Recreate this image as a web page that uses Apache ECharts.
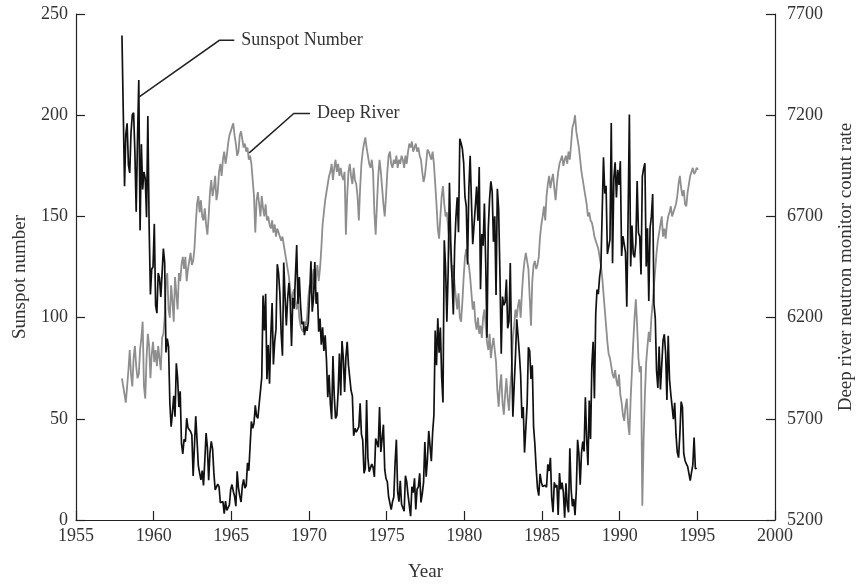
<!DOCTYPE html>
<html>
<head>
<meta charset="utf-8">
<script src="https://cdn.jsdelivr.net/npm/echarts@6/dist/echarts.min.js"></script>
<style>html,body{margin:0;padding:0;background:#fff}#c{width:864px;height:587px}</style>
</head>
<body>
<div id="c"></div>
<script>
// Monthly series, first value = Dec 1957
const START_YEAR = 1957;
const START_MONTH = 11; // 0-based: December
const sunspot = [
239.4,
202.5,164.9,190.7,196.0,175.3,171.5,191.4,200.2,201.2,181.5,152.3,187.6,
217.4,143.1,185.7,163.3,172.0,168.7,149.6,199.6,145.2,111.4,124.0,125.0,
146.3,106.0,102.2,122.0,119.6,110.2,121.7,134.1,127.2,82.8,89.6,85.6,
57.9,46.1,53.0,61.4,51.0,77.4,70.2,55.8,63.6,37.7,32.6,39.9,
38.7,50.3,45.6,46.4,43.7,42.0,21.8,21.8,51.3,39.5,26.9,23.2,
19.8,24.4,17.1,29.3,43.0,35.9,19.6,33.2,38.8,35.3,23.4,14.9,
15.3,17.7,16.5,8.6,9.5,9.1,3.1,9.3,4.7,6.1,7.4,15.1,
17.5,14.2,11.7,6.8,24.1,15.9,11.9,8.9,16.8,20.1,15.8,17.0,
28.2,24.4,25.3,48.7,45.3,47.7,56.7,51.2,50.2,57.2,57.2,70.4,
110.9,93.6,111.8,69.5,86.5,67.3,91.5,107.2,76.8,88.2,94.3,126.4,
121.8,111.9,92.2,81.2,127.2,110.3,96.1,109.3,117.2,107.7,86.0,109.8,
104.4,120.5,135.8,106.8,120.0,106.0,96.8,98.0,91.3,95.7,93.5,97.9,
111.5,127.8,102.9,109.5,127.5,106.8,112.5,93.0,99.5,86.6,95.2,83.5,
91.3,79.0,60.7,71.8,57.5,49.8,81.0,61.4,50.2,51.7,63.2,82.2,
61.5,88.4,80.1,63.2,80.5,88.0,76.5,76.8,64.0,61.3,41.6,45.3,
43.4,42.9,46.0,57.7,42.4,39.5,23.1,25.6,59.3,30.7,23.9,23.3,
27.6,26.0,21.3,40.3,39.5,36.0,55.8,33.6,40.2,47.1,25.0,20.5,
18.9,11.5,11.5,5.1,9.0,11.4,28.2,39.7,13.9,9.1,19.4,7.8,
8.1,4.3,21.9,18.8,12.4,12.2,1.9,16.4,13.5,20.6,5.2,15.3,
16.4,23.1,8.7,12.9,18.6,38.5,21.4,30.1,44.0,43.8,29.1,43.2,
51.9,93.6,76.5,99.7,82.7,95.1,70.4,58.1,138.2,125.1,97.9,122.7,
166.6,137.5,138.0,101.5,134.4,149.5,159.4,142.2,188.4,186.2,183.3,176.3,
159.6,155.0,126.2,164.1,179.9,157.3,136.3,135.4,155.0,164.7,147.9,174.4,
114.0,141.3,135.5,156.4,127.5,90.0,143.8,158.7,167.3,162.4,137.5,150.1,
111.2,163.6,153.8,122.0,82.2,110.4,106.1,107.6,118.8,94.7,98.1,127.0,
84.3,51.0,66.5,80.7,99.2,91.1,82.2,71.8,50.3,55.8,33.3,33.4,
57.0,85.4,83.5,69.7,76.4,46.1,37.4,25.5,15.7,12.0,22.8,18.7,
16.5,15.9,17.2,16.2,27.5,24.2,30.7,11.1,3.9,18.6,16.2,17.3,
2.5,23.2,15.1,18.5,13.7,1.1,18.1,7.4,3.8,35.4,15.2,6.8,
10.4,2.4,14.7,39.6,33.0,17.4,33.0,38.7,33.9,60.6,39.9,27.1,
59.0,40.0,76.2,88.0,60.1,101.8,113.8,111.6,120.1,125.1,125.1,179.2,
161.3,165.1,131.4,130.6,138.5,196.2,126.9,168.9,176.7,159.4,173.0,165.5,
177.3,130.5,140.3,140.3,132.2,105.4,149.4,200.3,125.2,145.5,131.4,129.7,
136.9,167.5,141.9,140.0,121.3,169.7,173.7,176.3,125.3,144.1,108.2,144.4,
150.0,161.1,106.7,99.8,73.8,65.2,85.7,64.5,63.9,88.7,91.8,82.6,
59.3,91.0,69.8,62.2,61.3,49.8,57.9,42.4,33.4,30.8,42.5,58.5,
55.8,32.9,29.4,27.7,26.5,26.3,19.5,23.5,27.1,40.8,25.2,25.8
];
const deepRiver = [
5900,
5900,5820,5780,5860,5940,6040,5920,5860,6000,6060,5960,5900,
5920,6040,6100,6180,5860,5800,6000,6120,6060,5900,6020,6080,
5980,6040,5960,6060,6000,5940,6100,6120,6200,6380,6420,6240,
6200,6360,6280,6180,6400,6320,6240,6420,6380,6460,6500,6440,
6500,6380,6440,6480,6520,6460,6480,6540,6660,6760,6800,6720,
6780,6700,6680,6740,6660,6610,6700,6820,6880,6800,6840,6900,
6780,6820,6920,6960,6900,6980,7020,6960,7000,7060,7100,7120,
7140,7160,7100,7060,7000,7020,7100,7120,7080,7040,7060,7020,
7040,6980,7000,6960,6880,6800,6620,6780,6820,6760,6700,6800,
6740,6700,6760,6680,6700,6660,6640,6680,6620,6660,6600,6640,
6620,6600,6580,6600,6560,6520,6480,6440,6400,6340,6260,6320,
6340,6280,6240,6300,6200,6160,6140,6130,6180,6160,6200,6300,
6360,6320,6380,6440,6340,6400,6460,6380,6440,6540,6660,6720,
6780,6820,6860,6900,6920,6960,6880,6940,6980,6920,6960,6900,
6940,6900,6880,6920,6610,6800,6920,6960,6900,6860,6940,6880,
6860,6800,6680,6840,6960,7020,7060,7090,7040,7000,6960,6940,
6980,6920,6720,6610,6760,6900,6980,6920,6840,6760,6700,6800,
6920,7000,7020,6960,6940,6980,6960,7000,6940,6980,6960,7000,
6980,6940,7000,6960,7020,7060,7040,7070,7020,7040,7060,7020,
7040,7000,6980,6920,6870,6900,6960,7030,7020,7000,6980,7020,
6960,6860,6760,6640,6590,6700,6800,6850,6760,6700,6720,6640,
6580,6500,6400,6460,6360,6300,6240,6320,6200,6180,6280,6400,
6500,6540,6480,6460,6400,6320,6240,6280,6180,6140,6200,6120,
6160,6100,6200,6240,6160,6080,6040,6120,6000,6060,6100,6040,
5980,5840,5760,5860,5920,5780,5720,5820,5900,5800,5740,5860,
5940,6100,6160,6240,6200,6260,6290,6200,6320,6420,6480,6520,
6480,6440,6300,6160,6380,6460,6480,6440,6460,6500,6600,6660,
6700,6750,6680,6800,6860,6900,6840,6880,6910,6840,6780,6860,
6920,6960,6980,7000,6950,6980,7000,6960,7020,6980,7060,7140,
7160,7200,7120,7080,7040,6980,6920,6880,6840,6800,6760,6700,
6720,6680,6670,6640,6600,6580,6560,6540,6500,6460,6400,6320,
6240,6160,6080,6020,6000,5960,5920,5900,5940,5890,5860,5920,
5820,5780,5720,5690,5760,5800,5680,5620,5800,5940,6080,6200,
6290,6160,6000,5930,5960,5270,5600,5820,5980,6060,6130,6080,
6200,6270,6360,6440,6520,6580,6620,6660,6700,6600,6640,6590,
6660,6700,6720,6750,6700,6720,6740,6760,6800,6860,6900,6840,
6800,6830,6760,6750,6820,6860,6900,6920,6940,6910,6920,6940,
6930
];
const xTicks = [1955,1960,1965,1970,1975,1980,1985,1990,1995,2000];
const leftTicks = [0,50,100,150,200,250];
const rightTicks = [5200,5700,6200,6700,7200,7700];
// annotation leaders in data coords (year, sunspot-axis value)
const sunspotLeader = [[1959.07,209],[1964.23,237],[1965.19,237]];
const deepLeader = [[1966.15,181.4],[1969.02,200.9],[1970.06,200.9]];

function monthX(i){ return START_YEAR + (START_MONTH + i + 0.5)/12; }
const sunData = sunspot.map((v,i)=>[monthX(i), v]);
const drData = deepRiver.map((v,i)=>[monthX(i), v]);

const FONT = 'Liberation Serif';
const tick = {fontFamily: FONT, fontSize: 18, color: '#333'};
const nameTxt = {fontFamily: FONT, fontSize: 19, color: '#333'};
const chart = echarts.init(document.getElementById('c'), null, {renderer:'canvas'});
const axisLine = {show:true, lineStyle:{color:'#222', width:1.2}};
const axisTick = {show:true, inside:true, length:9, lineStyle:{color:'#222', width:1.2}};
chart.setOption({
  animation:false,
  backgroundColor:'#fff',
  grid:{left:76, right:83, top:14, bottom:57, containLabel:false},
  xAxis:{type:'value', min:xTicks[0], max:xTicks[xTicks.length-1], interval:5,
    axisLine:axisLine, axisTick:axisTick, splitLine:{show:false},
    axisLabel:Object.assign({margin:7, formatter:v=>String(v)}, tick),
    name:'Year', nameLocation:'middle', nameGap:43, nameTextStyle:Object.assign({}, nameTxt)},
  yAxis:[
    {type:'value', min:leftTicks[0], max:leftTicks[leftTicks.length-1], interval:50,
     axisLine:axisLine, axisTick:axisTick, splitLine:{show:false},
     axisLabel:Object.assign({margin:8, formatter:v=>String(v)}, tick),
     name:'Sunspot number', nameLocation:'middle', nameGap:46, nameRotate:90,
     nameTextStyle:Object.assign({padding:[0,20,0,0]}, nameTxt)},
    {type:'value', position:'right', min:rightTicks[0], max:rightTicks[rightTicks.length-1], interval:500,
     axisLine:axisLine, axisTick:axisTick, splitLine:{show:false},
     axisLabel:Object.assign({margin:12, formatter:v=>String(v)}, tick),
     name:'Deep river neutron monitor count rate', nameLocation:'middle', nameGap:62, nameRotate:90,
     nameTextStyle:Object.assign({}, nameTxt)}
  ],
  series:[
    {name:'Deep River', type:'line', yAxisIndex:1, data:drData, showSymbol:false,
     lineStyle:{color:'#8e8e8e', width:1.8}, z:2},
    {name:'Sunspot Number', type:'line', yAxisIndex:0, data:sunData, showSymbol:false,
     lineStyle:{color:'#111', width:1.7}, z:3}
  ]
});

function toPx(p){ return chart.convertToPixel({xAxisIndex:0, yAxisIndex:0}, p); }
function leader(pts, label){
  const px = pts.map(toPx);
  const end = px[px.length-1];
  return [
    {type:'polyline', shape:{points:px}, style:{stroke:'#222', lineWidth:1.5, fill:null}, z:10},
    {type:'text', x:end[0]+7, y:end[1], style:{text:label, font:'18px "Liberation Serif"', fill:'#333', verticalAlign:'middle'}, z:10}
  ];
}
chart.setOption({graphic:[].concat(leader(sunspotLeader,'Sunspot Number'), leader(deepLeader,'Deep River'))});
</script>
</body>
</html>
